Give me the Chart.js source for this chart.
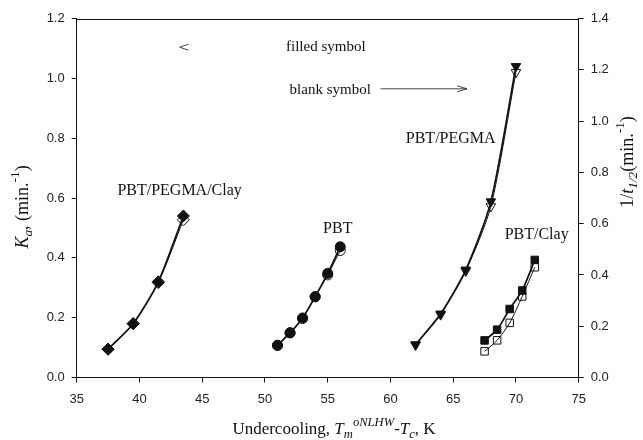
<!DOCTYPE html>
<html>
<head>
<meta charset="utf-8">
<script src="https://cdn.jsdelivr.net/npm/chart.js@4.4.1/dist/chart.umd.min.js"></script>
<style>
  body { margin: 0; background: #fff; }
  #wrap { width: 643px; height: 440px; }
</style>
</head>
<body>
<div id="wrap"><canvas id="myChart" width="643" height="440"></canvas></div>
<script>
// undercooling (K) per sample; Ka on the left axis, 1/t1/2 on the right axis
let clay_x = [37.5, 39.5, 41.5, 43.5];
let clay_ka = [0.095, 0.18, 0.32, 0.54];
let clay_inv_t = [0.11, 0.21, 0.37, 0.615];

let pbt_x = [51, 52, 53, 54, 55, 56];
let pbt_ka = [0.108, 0.149, 0.199, 0.27, 0.348, 0.437];
let pbt_inv_t = [0.125, 0.175, 0.23, 0.315, 0.40, 0.495];

let pegma_x = [62, 64, 66, 68, 70];
let pegma_ka = [0.11, 0.213, 0.36, 0.588, 1.04];
let pegma_inv_t = [0.127, 0.245, 0.415, 0.667, 1.19];

let pbtclay_x = [67.5, 68.5, 69.5, 70.5, 71.5];
let pbtclay_ka = [0.124, 0.16, 0.229, 0.291, 0.393];
let pbtclay_inv_t = [0.102, 0.145, 0.213, 0.316, 0.43];

let x_ticks = [35, 40, 45, 50, 55, 60, 65, 70, 75];
let left_ticks = [0, 0.2, 0.4, 0.6, 0.8, 1.0, 1.2];
let right_ticks = [0, 0.2, 0.4, 0.6, 0.8, 1.0, 1.2, 1.4];

let sample_names = ['PBT/PEGMA/Clay', 'PBT', 'PBT/PEGMA', 'PBT/Clay'];

const SERIF = "'Liberation Serif', 'DejaVu Serif', serif";
const SANS = "'Liberation Sans', Arial, sans-serif";
const INK = '#111';

function pts(xs, ys) {
      return xs.map((x, i) => ({ x: x, y: ys[i] }));
}

function filled(xs, ys, style, r, rot) {
      return {
            data: pts(xs, ys), yAxisID: 'yLeft',
            borderColor: INK, backgroundColor: INK, borderWidth: 1.7,
            pointStyle: style, pointRadius: r, pointRotation: rot || 0,
            pointBorderWidth: 1, tension: 0.25
      };
}

function blank(xs, ys, style, r, rot) {
      return {
            data: pts(xs, ys), yAxisID: 'yRight',
            borderColor: INK, backgroundColor: 'rgba(255,255,255,0)', borderWidth: 1,
            pointStyle: style, pointRadius: r, pointRotation: rot || 0,
            pointBorderWidth: 1, tension: 0.25
      };
}

// rich text: italic parts, sub- and superscripts
function partFont(p, size) {
      let s = (p.sub || p.sup) ? size * 0.74 : size;
      return (p.it ? 'italic ' : '') + s + 'px ' + SERIF;
}

function drawRich(ctx, parts, size) {
      let w = 0;
      parts.forEach(p => { ctx.font = partFont(p, size); w += ctx.measureText(p.t).width; });
      let x = -w / 2;
      parts.forEach(p => {
            let dy = p.sub ? size * 0.3 : (p.sup ? -size * 0.42 : 0);
            ctx.font = partFont(p, size);
            ctx.fillText(p.t, x, dy);
            x += ctx.measureText(p.t).width;
      });
}

const xTitle = [
      { t: 'Undercooling, ' }, { t: 'T', it: true }, { t: 'm', it: true, sub: true },
      { t: 'oNLHW', it: true, sup: true }, { t: '-' }, { t: 'T', it: true },
      { t: 'c', it: true, sub: true }, { t: ', K' }
];
const leftTitle = [
      { t: 'K', it: true }, { t: 'a', it: true, sub: true }, { t: ', (min.' },
      { t: '-1', sup: true }, { t: ')' }
];
const rightTitle = [
      { t: '1/' }, { t: 't', it: true }, { t: '1/2', it: true, sub: true }, { t: '(min.' },
      { t: '-1', sup: true }, { t: ')' }
];

const decorations = {
      id: 'decorations',
      afterDraw(chart) {
            const ctx = chart.ctx;
            const a = chart.chartArea;
            const sx = chart.scales.x, sy = chart.scales.yLeft;
            const px = v => sx.getPixelForValue(v);
            const py = v => sy.getPixelForValue(v);

            ctx.save();
            // top frame line
            ctx.strokeStyle = INK;
            ctx.lineWidth = 1;
            ctx.beginPath();
            ctx.moveTo(a.left, Math.round(a.top) + 0.5);
            ctx.lineTo(a.right, Math.round(a.top) + 0.5);
            ctx.stroke();

            ctx.fillStyle = INK;
            ctx.textBaseline = 'middle';
            ctx.textAlign = 'left';

            // axis titles
            ctx.save();
            ctx.translate(334, 430);
            drawRich(ctx, xTitle, 17);
            ctx.restore();

            ctx.save();
            ctx.translate(23, 207);
            ctx.rotate(-Math.PI / 2);
            drawRich(ctx, leftTitle, 18);
            ctx.restore();

            ctx.save();
            ctx.translate(628, 162);
            ctx.rotate(-Math.PI / 2);
            drawRich(ctx, rightTitle, 18);
            ctx.restore();

            // sample labels
            ctx.textAlign = 'center';
            ctx.font = '16px ' + SERIF;
            const spots = [[43.2, 0.625], [55.8, 0.497], [64.8, 0.798], [71.65, 0.476]];
            sample_names.forEach((n, i) => ctx.fillText(n, px(spots[i][0]), py(spots[i][1])));

            // filled / blank symbol notes
            ctx.font = '15px ' + SERIF;
            ctx.fillText('filled symbol', px(54.85), py(1.104));
            ctx.fillText('blank symbol', px(55.2), py(0.962));

            ctx.lineWidth = 0.9;
            ctx.strokeStyle = '#333';
            let lx = px(43.2), ly = py(1.104);
            ctx.beginPath();
            ctx.moveTo(lx + 9, ly - 3);
            ctx.lineTo(lx, ly);
            ctx.lineTo(lx + 9, ly + 3);
            ctx.stroke();

            let ax0 = px(59.2), ax1 = px(66.1), ay = py(0.965);
            ctx.beginPath();
            ctx.moveTo(ax0, ay);
            ctx.lineTo(ax1, ay);
            ctx.moveTo(ax1 - 10, ay - 3);
            ctx.lineTo(ax1, ay);
            ctx.lineTo(ax1 - 10, ay + 3);
            ctx.stroke();
            ctx.restore();
      }
};

function fixedTicks(list) {
      return scale => { scale.ticks = list.map(v => ({ value: v })); };
}

const tickFont = { family: SANS, size: 13 };
const gridOpts = { display: true, drawOnChartArea: false, drawTicks: true, tickLength: 5, tickColor: INK };
const borderOpts = { display: true, color: INK, width: 1 };

let ctx = document.getElementById('myChart').getContext('2d');
let myChart = new Chart(ctx, {
      type: 'line',
      data: {
            datasets: [
                  filled(clay_x, clay_ka, 'rectRot', 6),
                  filled(pbt_x, pbt_ka, 'circle', 5),
                  filled(pegma_x, pegma_ka, 'triangle', 5.5, 180),
                  filled(pbtclay_x, pbtclay_ka, 'rect', 5.3),
                  blank(clay_x, clay_inv_t, 'rectRot', 6),
                  blank(pbt_x, pbt_inv_t, 'circle', 5),
                  blank(pegma_x, pegma_inv_t, 'triangle', 5.5, 180),
                  blank(pbtclay_x, pbtclay_inv_t, 'rect', 5.3)
            ]
      },
      options: {
            responsive: false,
            animation: false,
            devicePixelRatio: 1,
            layout: { padding: { top: 18.5, left: 0, right: 0, bottom: 0 } },
            plugins: { legend: { display: false }, tooltip: { enabled: false } },
            scales: {
                  x: {
                        type: 'linear', min: 35, max: 75,
                        afterBuildTicks: fixedTicks(x_ticks),
                        afterFit: s => { s.height = 62.5; },
                        grid: gridOpts, border: borderOpts,
                        ticks: { font: tickFont, color: '#222', padding: 9, maxRotation: 0 }
                  },
                  yLeft: {
                        type: 'linear', position: 'left', min: 0, max: 1.2,
                        afterBuildTicks: fixedTicks(left_ticks),
                        afterFit: s => { s.width = 76.7; },
                        grid: gridOpts, border: borderOpts,
                        ticks: { font: tickFont, color: '#222', padding: 7, callback: v => v.toFixed(1) }
                  },
                  yRight: {
                        type: 'linear', position: 'right', min: 0, max: 1.4,
                        afterBuildTicks: fixedTicks(right_ticks),
                        afterFit: s => { s.width = 64.3; },
                        grid: gridOpts, border: borderOpts,
                        ticks: { font: tickFont, color: '#222', padding: 7, callback: v => v.toFixed(1) }
                  }
            }
      },
      plugins: [decorations]
});
</script>
</body>
</html>
